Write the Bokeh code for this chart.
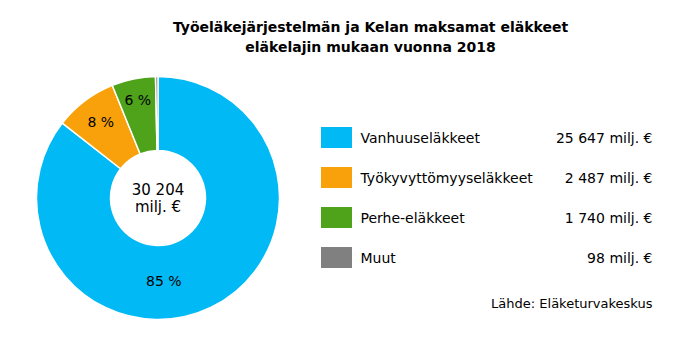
import math
from bokeh.plotting import figure
from bokeh.models import Range1d, ColumnDataSource
from bokeh.core.properties import value
from bokeh.embed import file_html
from bokeh.resources import INLINE

title_lines = ["Työeläkejärjestelmän ja Kelan maksamat eläkkeet",
               "eläkelajin mukaan vuonna 2018"]
categories = ["Vanhuuseläkkeet", "Työkyvyttömyyseläkkeet", "Perhe-eläkkeet", "Muut"]
values_meur = [25647, 2487, 1740, 98]
value_labels = ["25 647 milj. €", "2 487 milj. €", "1 740 milj. €", "98 milj. €"]
pct_labels = ["85 %", "8 %", "6 %", ""]
total_label = ["30 204", "milj. €"]
source_note = "Lähde: Eläketurvakeskus"
colors = ["#00B9F5", "#F9A10B", "#4EA31B", "#808080"]

W, H = 698, 337
FONT = "DejaVu Sans"

p = figure(width=W, height=H, output_backend="svg", toolbar_location=None,
           x_range=Range1d(0, W), y_range=Range1d(0, H), min_border=0)
p.axis.visible = False
p.grid.visible = False
p.outline_line_color = None
p.background_fill_color = "white"

def Y(py):
    return H - py

cx, cy = 157.5, Y(197.5)
r_out, r_in = 121.5, 47.5

total = sum(values_meur)
starts, ends, mids = [], [], []
cum = 0.0
for v in values_meur:
    a0 = math.pi / 2 - 2 * math.pi * cum / total
    cum += v
    a1 = math.pi / 2 - 2 * math.pi * cum / total
    starts.append(a0)
    ends.append(a1)
    mids.append((a0 + a1) / 2)

src = ColumnDataSource(dict(start=starts, end=ends, color=colors))
p.annular_wedge(x=cx, y=cy, inner_radius=r_in, outer_radius=r_out,
                inner_radius_units="screen", outer_radius_units="screen",
                start_angle="start", end_angle="end", direction="clock",
                fill_color="color", line_color="white", line_width=1.5, source=src)

# percentage labels
lab_r = [83, 95, 100, 0]
lab_ang = [math.pi / 2 - math.radians(176), mids[1], mids[2], mids[3]]
lx = [cx + r * math.cos(a) for r, a in zip(lab_r, lab_ang)]
ly = [cy + r * math.sin(a) for r, a in zip(lab_r, lab_ang)]
p.text(x=lx, y=ly, text=pct_labels, text_font=value(FONT), text_font_size="14px",
       text_align="center", text_baseline="middle", text_color="#000000")

# center total
p.text(x=[cx, cx], y=[cy + 8, cy - 9], text=total_label, text_font=value(FONT),
       text_font_size="15px", text_align="center", text_baseline="middle",
       text_color="#000000")

# title
p.text(x=[370, 370], y=[Y(26), Y(46)], text=title_lines, text_font=value(FONT),
       text_font_size="14px", text_font_style="bold", text_align="center",
       text_baseline="middle", text_color="#000000")

# legend
row_y = [Y(137 + 40 * i) for i in range(len(categories))]
p.rect(x=[336] * 4, y=row_y, width=31, height=21, fill_color=colors, line_color=None)
p.text(x=[360] * 4, y=row_y, text=categories, text_font=value(FONT),
       text_font_size="14px", text_align="left", text_baseline="middle",
       text_color="#000000")
p.text(x=[652] * 4, y=row_y, text=value_labels, text_font=value(FONT),
       text_font_size="14px", text_align="right", text_baseline="middle",
       text_color="#000000")

p.text(x=[652], y=[Y(303)], text=[source_note], text_font=value(FONT),
       text_font_size="13px", text_align="right", text_baseline="middle",
       text_color="#000000")

open("out.html", "w").write(file_html(p, INLINE))
